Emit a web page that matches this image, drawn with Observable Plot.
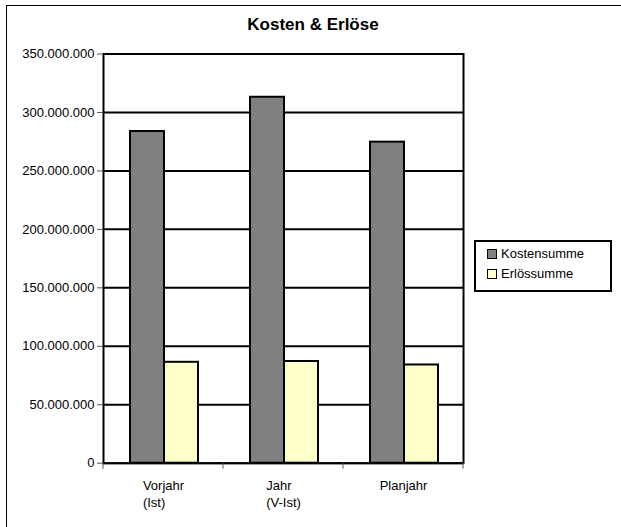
<!DOCTYPE html>
<html><head><meta charset="utf-8">
<script src="https://cdn.jsdelivr.net/npm/d3@7"></script>
<script src="https://cdn.jsdelivr.net/npm/@observablehq/plot@0.6"></script>
<style>
html,body{margin:0;padding:0;background:#fff;overflow:hidden;}
#wrap{position:relative;width:621px;height:527px;overflow:hidden;font-family:"Liberation Sans",Arial,sans-serif;color:#000;}
#border{position:absolute;left:6px;top:5px;width:800px;height:800px;border-top:1px solid #000;border-left:1px solid #000;}
#title{position:absolute;left:0;width:626px;top:16px;text-align:center;font-weight:bold;font-size:17px;line-height:17px;}
#chart{position:absolute;left:0;top:0;}
#legend{position:absolute;left:474px;top:240px;width:134px;height:48px;border:2px solid #000;background:#fff;}
.item{position:absolute;left:11px;height:14px;font-size:13px;line-height:14px;white-space:nowrap;}
.sw{display:inline-block;width:8px;height:8px;border:1px solid #000;vertical-align:top;margin-top:2px;margin-right:4px;}
</style></head><body><div id="wrap"><div id="border"></div><div id="chart"></div><div id="title"></div><div id="legend"></div></div>
<script>
const title = "Kosten & Erlöse";
const categories = ["Vorjahr\n(Ist)", "Jahr\n(V-Ist)", "Planjahr"];
const seriesNames = ["Kostensumme", "Erlössumme"];
const kostensumme = [283.7e6, 313.0e6, 274.6e6];
const erloessumme = [86.3e6, 87.0e6, 84.0e6];
const yTickValues = [0, 50e6, 100e6, 150e6, 200e6, 250e6, 300e6, 350e6];
const seriesColors = ["#808080", "#FFFFCC"];

const data = categories.flatMap((c, i) => [
  {category: c, series: seriesNames[0], value: kostensumme[i]},
  {category: c, series: seriesNames[1], value: erloessumme[i]}
]);

const fmt = d3.formatLocale({decimal: ",", thousands: ".", grouping: [3], currency: ["", ""]}).format(",d");

const ctx = document.createElement("canvas").getContext("2d");
ctx.font = "13px 'Liberation Sans'";

function boundaryTicks(index, scales, values, dims) {
  const x = scales.x;
  const bw = x.bandwidth();
  const xs = categories.map(c => x(c)).concat([x(categories[categories.length - 1]) + bw]);
  const y0 = dims.height - dims.marginBottom;
  const g = d3.create("svg:g").attr("stroke", "#555").attr("stroke-width", 1);
  for (const xv of xs) g.append("line").attr("x1", xv).attr("x2", xv).attr("y1", y0).attr("y2", y0 + 6);
  return g.node();
}

const labelMarks = categories.map(c => {
  const w = d3.max(c.split("\n"), l => ctx.measureText(l).width);
  return Plot.text([c], {x: d => d, text: d => d, frameAnchor: "bottom", textAnchor: "start", lineAnchor: "top",
    dx: -w / 2, dy: 15, fontSize: 13, lineHeight: 1.3, fill: "black"});
});

const plot = Plot.plot({
  width: 621, height: 527,
  marginLeft: 103, marginRight: 158, marginTop: 53.5, marginBottom: 64.3,
  style: {background: "transparent", fontFamily: "'Liberation Sans', Arial, sans-serif", color: "black"},
  x: {domain: categories, padding: 0, axis: null, label: null},
  y: {domain: [0, 350e6], label: null},
  color: {domain: seriesNames, range: seriesColors},
  marks: [
    Plot.ruleY(yTickValues, {stroke: "black", strokeWidth: 2}),
    Plot.barY(data.filter(d => d.series === seriesNames[0]), {x: "category", y: "value", fill: "series", stroke: "black", strokeWidth: 2, insetLeft: 27, insetRight: 59}),
    Plot.barY(data.filter(d => d.series === seriesNames[1]), {x: "category", y: "value", fill: "series", stroke: "black", strokeWidth: 2, insetLeft: 61, insetRight: 25}),
    Plot.frame({stroke: "black", strokeWidth: 2}),
    Plot.axisY({ticks: yTickValues, tickFormat: fmt, tickSize: 6, tickPadding: 3, fontSize: 13, stroke: "#555", label: null}),
    boundaryTicks,
    ...labelMarks
  ]
});
document.getElementById("chart").appendChild(plot);
document.getElementById("title").textContent = title;

const color = plot.scale("color");
const legend = document.getElementById("legend");
seriesNames.forEach((s, i) => {
  const it = document.createElement("div");
  it.className = "item";
  it.style.top = (5 + i * 20) + "px";
  const sw = document.createElement("span");
  sw.className = "sw";
  sw.style.background = color.range[color.domain.indexOf(s)];
  it.appendChild(sw);
  it.appendChild(document.createTextNode(s));
  legend.appendChild(it);
});
</script></body></html>
